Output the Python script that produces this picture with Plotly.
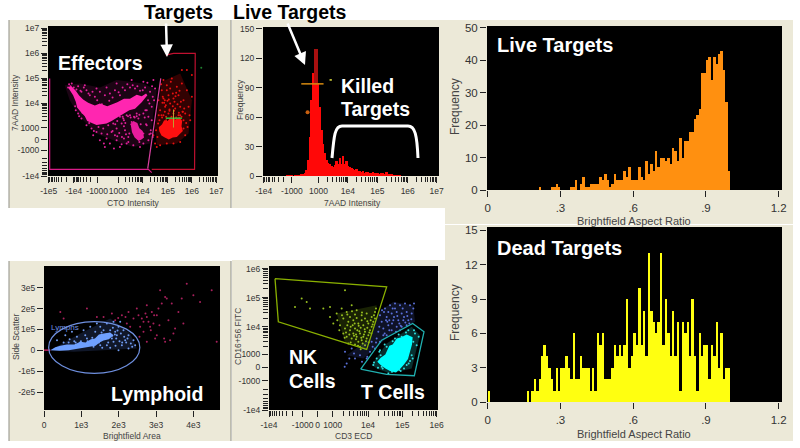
import numpy as np
import plotly.graph_objects as go

W, H = 800, 448
FONT = "Liberation Sans"

# ---------- data: channel histograms and frequency histograms ----------
target_bins = list(range(170, 520, 5))
target_counts = [1,1,1,1,0,1,1,1,1,2,2,3,6,16,40,78,105,130,130,95,70,47,33,23,16,13,12,10,9,11,
                 15,12,18,12,20,12,15,10,9,8,7,6,7,5,5,4,5,3,4,4,3,3,4,3,3,3,2,3,3,2,4,2,2,2,1,1,1,1,1,0]
cap_bins = [255, 260]
cap_counts = [36, 36]

live_counts = [0]*21 + [1,0,0,0,0,1,1,2,1,0,0,0,0,1,1,3,0,2,4,1,1,2,2,2,2,4,3,5,3,1,2,5,3,3,3,6,4,7,3,
               3,3,7,4,3,9,5,8,6,12,7,10,10,9,10,8,13,12,9,16,10,15,15,18,18,22,23,25,36,36,40,41,34,41,39,42,43,37,27,6]
dead_counts = [1] + [0]*15 + [1,0,1,2,1,2,4,5,4,3,2,1,3,1,3,3,4,3,2,6,2,2,4,3,3,3,1,3,1,6,5,6,2,2,
               2,3,5,4,5,4,5,9,3,4,6,5,10,5,8,4,13,8,7,6,7,13,5,9,6,4,8,4,7,1,7,6,7,4,9,4,1,6,4,5,5,2,5,4,7,3,6,2,3,3]

# ---------- data: event clouds, in instrument channels ----------
eff_x = [205,212,222,235,245,260,270,285,300,315,330,345,360,375,390,405,420,435,450,465,320,350,395,430,460,290,255,
         235,245,260,275,290,305,320,335,350,365,375,385,350,330,315,300,280,360,390,410,430,445,440,430,445,420,400,380,360,345,325,370,395,415,455,462,448,440,455,452,310,340,
         228,238,268,296,322,352,372,402,418,444,458,226,248,282,312,342,368,392,436,452,430,410,385,365,338,
         208,216,230,242,252,266,278,292,306,328,338,356,368,382,398,412,428,442,456,380,400,372,352,388,372,
         346,358,376,384,394,408,422,438,448,458,366,378,404,418,434]
eff_y = [262,258,262,258,275,270,285,290,275,285,280,270,285,270,262,265,272,262,275,265,262,250,240,245,240,265,255,
         340,355,375,385,395,400,415,395,385,370,390,410,420,430,440,420,405,350,345,340,340,350,375,400,420,440,435,430,440,405,375,355,365,355,320,300,310,330,360,390,385,370,
         330,348,368,380,402,408,360,350,425,300,290,318,338,392,430,445,350,352,330,400,430,348,425,432,392,
         252,250,268,272,262,280,275,300,312,302,292,276,262,252,255,258,270,248,258,345,380,378,362,400,415,
         372,398,368,348,372,398,372,372,402,410,410,402,352,344,352]
eff_halo_x = [195,240,300,350,430,470,460,450,400,340,290,240,210]
eff_halo_y = [255,250,262,240,250,270,340,430,440,420,400,350,300]
eff_blob_x = [205,220,228,232,245,255,262,275,290,305,320,335,352,370,388,405,425,442,438,425,410,390,372,352,335,322,300,285,265,250,238,228,215]
eff_blob_y = [262,285,305,322,338,348,362,368,374,372,370,362,352,342,330,326,306,285,280,288,284,296,296,306,312,318,310,316,308,298,286,272,258]
eff_low_x = [392,400,412,418,428,432,424,416,404,396]
eff_low_y = [372,362,368,384,392,412,418,422,412,396]
tgt_x = [490,500,515,530,545,560,575,485,475,490,505,520,535,550,565,480,495,510,525,540,555,570,478,490,505,520,535,550,562,468,472,465,480,500,520,540,555,500,545,560,575,510,487,528,512,498,480,550,
         483,497,523,538,552,568,476,508,533,547,518,494,470,460,542,512,
         488,502,518,532,548,494,508,522,536,484,498,514,528,544,558,492,506,526,540,474,486]
tgt_y = [240,255,235,260,250,270,290,270,300,295,285,295,285,300,320,330,320,310,325,320,340,360,360,345,340,340,345,360,380,390,410,430,435,430,430,425,405,270,210,210,225,265,308,278,355,360,382,385,
         252,315,305,272,325,345,345,332,355,335,280,300,440,405,305,245,
         290,302,318,312,335,335,328,332,338,345,350,350,352,350,368,308,298,288,345,370,352]
tgt_halo_x = [485,540,575,565,530,470,465,478]
tgt_halo_y = [245,220,300,400,430,435,380,300]
tgt_blob_x = [476,486,492,502,512,526,538,546,544,548,538,530,518,506,494,484,478]
tgt_blob_y = [382,372,360,362,352,358,350,362,378,392,402,410,412,418,412,406,394]

lym_out_x = [480,495,560,515,470,440,415,430,450,470,495,510,535,580,600,635,650,400,385,345,310,180,260,500,550,420,440,465,525,390,365,335,290,190,455,485,545,
             475,505,520,440,410,380,460,430,425,445,462,478,492,418,436,452,376,354]
lym_out_y = [105,125,85,145,180,150,180,200,215,240,260,255,170,120,140,105,260,190,170,195,185,170,160,130,205,215,260,250,220,215,180,175,185,190,170,145,130,
             160,195,235,185,160,205,205,230,190,200,180,210,250,245,175,225,185,188]
lym_in_x = [170,195,215,230,250,270,285,300,320,340,355,370,385,400,350,365,385,340,320,300,280,260,240,330,310,345,375,295,405,355,270,255,335,290,360,
            325,348,362,378,392,312,288,262,242,222,205,338,358,372,
            318,328,336,344,352,304,314,324,296,286,276,266,306,330,346,366,382,396,190,208,226,246]
lym_in_y = [255,240,230,245,225,215,230,215,205,200,215,225,240,255,240,270,280,260,270,270,275,250,262,225,225,230,255,250,270,285,265,240,250,205,200,
            245,250,235,262,265,248,262,258,258,258,262,218,258,245,
            238,236,242,238,226,232,240,262,262,258,248,268,278,278,272,262,250,275,262,252,262,268]
lym_halo_x = [150,240,330,390,410,300,220]
lym_halo_y = [285,235,190,235,280,285,290]
lym_blob_x = [150,165,180,200,222,240,256,272,284,296,306,330,340,326,310,298,286,262,236,205,178]
lym_blob_y = [285,276,272,268,268,260,262,252,250,238,236,232,240,252,256,262,272,276,282,285,287]

nk_x = [195,215,230,240,280,300,345,320,335,350,365,380,395,410,425,435,340,355,370,385,400,415,430,345,360,375,390,405,420,350,365,380,395,410,355,375,390,405,330,322,300,310,370,385,400,415,425,435,360,375,340,395,405,382,368,352,392,412,378,398,
        348,358,372,388,402,418,428,362,378,394,408,422,352,366,380,396,412,344,336,328,404,386,374,362,416,432,438,424,384,392]
nk_y = [155,130,140,160,160,155,105,175,160,170,150,165,180,175,185,170,190,200,195,205,210,205,200,220,225,220,235,230,225,245,250,245,255,250,265,268,275,270,210,195,185,205,235,260,245,240,215,190,185,178,235,195,190,225,210,210,218,218,238,265,
        232,238,242,228,238,232,208,262,252,248,258,195,178,168,188,172,198,248,180,225,222,212,205,215,262,180,160,235,272,282]
bl_x = [450,465,480,495,510,525,540,455,470,485,500,515,530,545,460,475,490,505,520,535,470,445,450,435,420,410,390,375,350,345,365,485,500,515,530,440,495,475,460,510,425,
        462,478,492,508,522,538,550,456,468,488,502,518,532,472,486,498,512,526,448,464,478,544,552,438,428,412,396,372,358,344]
bl_y = [180,160,150,145,150,145,150,200,185,175,170,175,170,175,220,210,195,195,195,195,240,230,260,280,290,310,300,310,325,290,280,225,215,215,210,250,160,170,240,225,260,
        170,195,185,205,185,205,160,165,195,160,182,160,182,200,205,230,212,202,215,235,225,192,145,262,275,305,320,295,310,335]
tc_x = [430,455,475,530,545,550,555,535,515,495,470,450,440,462,508,522,540,432,444,458,486,512,536,548,560,566,552,528,506,488,464,448,452]
tc_y = [330,335,355,330,300,260,235,225,245,250,275,285,310,322,345,340,318,322,338,340,350,348,325,310,270,245,225,232,238,258,268,290,300]
nk_halo_x = [320,440,435,405,345]
nk_halo_y = [175,150,200,283,262]
bl_halo_x = [445,490,550,555,480,430,400,350,420]
bl_halo_y = [170,140,150,200,240,285,310,300,250]
tc_halo_x = [425,470,545,570,545,480,440]
tc_halo_y = [330,265,215,240,340,355,340]
tc_blob_x = [442,452,466,478,488,500,514,530,548,546,540,534,522,510,498,480,466,452]
tc_blob_y = [320,308,298,272,268,250,246,238,246,268,290,312,328,342,352,348,340,330]

# ---------- data: gates ----------
gate_red_x = [497,520,585,583,455]
gate_red_y = [165,160,160,507,507]
gate_pink_x = [150,150,445,455]
gate_pink_y = [235,507,507,517]
gate_diag_x = [482,443]
gate_diag_y = [235,505]
gate_nk_x = [135,470,410,345,320,145,135]
gate_nk_y = [70,95,283,262,255,200,70]
gate_t_x = [392,455,548,582,553,470,392]
gate_t_y = [342,255,205,230,362,358,342]

# ---------- data: ticks ----------
p1_xt = [147,222,292,355,428,503,575,648]
p1_xl = ["-1e5","-1e4","-1000","1000","1e4","1e5","1e6","1e7"]
p1_yt = [85,160,235,310,383,419,450,527]
p1_yl = ["1e7","1e6","1e5","1e4","1000","0","-1000","-1e4"]
p2_xt = [100,185,265,353,442,533,620]
p2_xl = ["-1e4","-1000","1000","1e4","1e5","1e6","1e7"]
p2_yt = [0,30,60,90,120,150]
ar_xt = [0,.3,.6,.9,1.2]
ar_xl = ["0",".3",".6",".9","1.2"]
p3_yt = [0,10,20,30,40,50]
p4_yt = [0,3,6,9,12,15]
p5_xt = [131,243,355,468,580]
p5_xl = ["0","1e3","2e3","3e3","4e3"]
p5_yt = [97,160,222,285,348,412]
p5_yl = ["3e5","2e5","1e5","0","-1e5","-2e5"]
p6_xt = [117,218,263,308,414,517,620]
p6_xl = ["-1e4","-1000","0","1000","1e4","1e5","1e6"]
p6_yt = [40,127,215,298,337,377,465]
p6_yl = ["1e6","1e5","1e4","1000","0","-1000","-1e4"]

def px(x): return x / W
def py(y): return 1 - y / H

def minors(pairs):
    out = []
    for a, b, neg in pairs:
        for k in range(2, 10):
            f = np.log10(k)
            out.append(float(b - (b - a) * f) if neg else float(a + (b - a) * f))
    return out

p1_xm = minors([(147,222,1),(222,292,1),(355,428,0),(428,503,0),(503,575,0),(575,648,0)])
p1_ym = minors([(527,450,1),(383,310,0),(310,235,0),(235,160,0),(160,85,0)])
p2_xm = minors([(100,185,1),(265,353,0),(353,442,0),(442,533,0),(533,620,0)])
p6_xm = minors([(117,218,1),(308,414,0),(414,517,0),(517,620,0)])
p6_ym = minors([(465,377,1),(298,215,0),(215,127,0),(127,40,0)])

fig = go.Figure()
shapes, annos = [], []

panels = [(9,20,231,208),(232,20,445,208),(445,20,793,224),(445,225,793,441),(9,261,231,441),(232,260,445,441)]
plots = [(48,26,218,176),(263,27,439,176),(487,26,782,190),(487,227,782,402),(44,266,220,410),(269,266,438,410)]
for (a,b,c,d) in panels:
    shapes.append(dict(type="rect", xref="paper", yref="paper", x0=px(a), x1=px(c), y0=py(d), y1=py(b),
                       fillcolor="#ece9d8", line_width=0, layer="below"))
for a in (9,231):
    shapes.append(dict(type="line", xref="paper", yref="paper", x0=px(a), x1=px(a), y0=py(208), y1=py(20),
                       line=dict(color="#8f8f85", width=1), layer="below"))
    shapes.append(dict(type="line", xref="paper", yref="paper", x0=px(a), x1=px(a), y0=py(441), y1=py(261),
                       line=dict(color="#8f8f85", width=1), layer="below"))
for (a,b,c,d) in plots:
    shapes.append(dict(type="rect", xref="paper", yref="paper", x0=px(a), x1=px(c), y0=py(d), y1=py(b),
                       fillcolor="black", line_width=0, layer="below"))

def axes(i, xr, yr, xt, xl, yt, yl, xm=None, ym=None, size=8.5, tl=6):
    a, b, c, d = plots[i]
    ax = dict(domain=[px(a), px(c)], range=xr, anchor=f"y{i+1}", tickvals=xt, ticktext=xl, tickangle=0,
              showgrid=False, zeroline=False, showline=False, ticks="outside", ticklen=tl, tickwidth=1, ticklabelstandoff=1,
              tickcolor="#222", tickfont=dict(size=size, color="#333", family=FONT), automargin=False)
    ay = dict(domain=[py(d), py(b)], range=yr, anchor=f"x{i+1}", tickvals=yt, ticktext=yl,
              showgrid=False, zeroline=False, showline=False, ticks="outside", ticklen=tl, tickwidth=1,
              tickcolor="#222", tickfont=dict(size=size, color="#333", family=FONT), automargin=False)
    if xm: ax["minor"] = dict(tickvals=xm, ticks="outside", ticklen=5, tickcolor="#222", tickwidth=1, showgrid=False)
    if ym: ay["minor"] = dict(tickvals=ym, ticks="outside", ticklen=5, tickcolor="#222", tickwidth=1, showgrid=False)
    fig.update_layout({f"xaxis{i+1}": ax, f"yaxis{i+1}": ay})

axes(0,[145,653],[527,78],p1_xt,p1_xl,p1_yt,p1_yl,p1_xm,p1_ym)
axes(1,[98,627],[0,152],p2_xt,p2_xl,p2_yt,[str(v) for v in p2_yt],p2_xm)
axes(2,[-0.003,1.2137],[0,50.6],ar_xt,ar_xl,p3_yt,[str(v) for v in p3_yt],size=11.5)
axes(3,[-0.003,1.2137],[0,15.3],ar_xt,ar_xl,p4_yt,[str(v) for v in p4_yt],size=11.5)
axes(4,[131,660],[465,32],p5_xt,p5_xl,p5_yt,p5_yl)
axes(5,[117,624],[465,32],p6_xt,p6_xl,p6_yt,p6_yl,p6_xm,p6_ym)

def dots(i, x, y, color, size=2):
    s = "" if i == 0 else str(i+1)
    fig.add_trace(go.Scatter(x=x, y=y, mode="markers", marker=dict(color=color, size=size, line_width=0),
                             xaxis="x"+s, yaxis="y"+s, showlegend=False, hoverinfo="skip"))
def poly(i, x, y, color):
    s = "" if i == 0 else str(i+1)
    fig.add_trace(go.Scatter(x=x+x[:1], y=y+y[:1], mode="lines", fill="toself", fillcolor=color,
                             line=dict(color="rgba(0,0,0,0)", width=0),
                             xaxis="x"+s, yaxis="y"+s, showlegend=False, hoverinfo="skip"))
def line(i, x, y, color, width=1):
    s = "" if i == 0 else str(i+1)
    fig.add_trace(go.Scatter(x=x, y=y, mode="lines", line=dict(color=color, width=width),
                             xaxis="x"+s, yaxis="y"+s, showlegend=False, hoverinfo="skip"))
def bars(i, x, y, color, width, base=None):
    s = "" if i == 0 else str(i+1)
    fig.add_trace(go.Bar(x=x, y=y, base=base, width=width, marker=dict(color=color, line_width=0),
                         xaxis="x"+s, yaxis="y"+s, showlegend=False, hoverinfo="skip"))

# panel 1
poly(0, eff_halo_x, eff_halo_y, "rgba(200,30,140,0.14)")
poly(0, tgt_halo_x, tgt_halo_y, "rgba(210,10,10,0.24)")
dots(0, eff_x, eff_y, "#e0209a")
poly(0, eff_blob_x, eff_blob_y, "#ff26b0")
poly(0, eff_low_x, eff_low_y, "#e81c9c")
dots(0, tgt_x, tgt_y, "#e81010")
poly(0, tgt_blob_x, tgt_blob_y, "#ff1010")
line(0, gate_red_x, gate_red_y, "#c01030", 1.2)
line(0, gate_pink_x, gate_pink_y, "#d81c88", 1.2)
line(0, gate_diag_x, gate_diag_y, "#d840a0", 1.2)
line(0, [497,545], [354,354], "#30c040", 1.5)
line(0, [520,520], [328,382], "#c0a030", 1)
dots(0, [603], [203], "#208030", 2)
# panel 2
bars(1, target_bins, target_counts, "#ff0808", 5.6)
bars(1, cap_bins, cap_counts, "#a81010", 5.6, base=94)
line(1, [213,280], [94,94], "#d88a10", 1.5)
line(1, [298,305], [98,98], "#e0e040", 1.5)
dots(1, [232], [65], "#c86010", 4)
# panels 3, 4
bin_x = (np.arange(100) * 0.01 + 0.005).tolist()
bars(2, bin_x, live_counts, "#ff9010", 0.0102)
bars(3, bin_x, dead_counts, "#ffff10", 0.0102)
# panel 5
poly(4, lym_halo_x, lym_halo_y, "rgba(90,130,230,0.18)")
dots(4, lym_out_x, lym_out_y, "#a8205c")
dots(4, lym_in_x, lym_in_y, "#6f9af0")
poly(4, lym_blob_x, lym_blob_y, "#6fa0ff")
line(4, [131,150], [285,285], "#c02060", 1.5)
shapes.append(dict(type="circle", xref="x5", yref="y5", x0=145, x1=419, y0=199, y1=355,
                   line=dict(color="#6f90e0", width=1.2), layer="above"))
# panel 6
poly(5, nk_halo_x, nk_halo_y, "rgba(140,190,20,0.18)")
poly(5, bl_halo_x, bl_halo_y, "rgba(80,100,210,0.18)")
poly(5, tc_halo_x, tc_halo_y, "rgba(30,220,220,0.22)")
dots(5, nk_x, nk_y, "#98c020")
dots(5, bl_x, bl_y, "#5a70d8")
dots(5, tc_x, tc_y, "#30e0e0")
poly(5, tc_blob_x, tc_blob_y, "#00ffff")
line(5, gate_nk_x, gate_nk_y, "#8ab000", 1.3)
line(5, gate_t_x, gate_t_y, "#20b0b0", 1.3)

# bracket over killed targets
shapes.append(dict(type="path", xref="paper", yref="paper",
    path=f"M {px(332)} {py(158)} C {px(334)} {py(135)} {px(335)} {py(126)} {px(342)} {py(126)} "
         f"L {px(408)} {py(126)} C {px(415)} {py(126)} {px(417)} {py(135)} {px(418)} {py(158)}",
    line=dict(color="white", width=3), layer="above"))

def label(text, x, y, color="white", size=19.5):
    annos.append(dict(text=f"<b>{text}</b>", x=px(x), y=py(y), xref="paper", yref="paper", xanchor="left", yanchor="middle",
                      showarrow=False, font=dict(family=FONT, size=size, color=color)))
label("Targets", 142, 12, "black")
label("Live Targets", 231, 12, "black")
label("Effectors", 56, 63)
label("Killed", 339, 86)
label("Targets", 339, 109)
label("Live Targets", 495, 45, size=20)
label("Dead Targets", 495, 248, size=20)
label("Lymphoid", 109, 394)
label("NK", 287, 357)
label("Cells", 287, 381)
label("T Cells", 359, 392)
annos.append(dict(text="Lymphs", x=px(49), y=py(327), xref="paper", yref="paper", xanchor="left", yanchor="middle",
                  showarrow=False, font=dict(family=FONT, size=8, color="#6f90e0")))
for (x0,y0,x1,y1) in [(166,22,167,57),(287,22,305,65)]:
    annos.append(dict(x=px(x1), y=py(y1), xref="paper", yref="paper", ax=x0-x1, ay=y0-y1, axref="pixel", ayref="pixel",
                      text="", showarrow=True, arrowhead=2, arrowsize=1, arrowwidth=2.5, arrowcolor="white"))

def title(text, x, y, size=8.5, angle=0):
    annos.append(dict(text=text, x=px(x), y=py(y), xref="paper", yref="paper", xanchor="center", yanchor="middle",
                      textangle=angle, showarrow=False, font=dict(family=FONT, size=size, color="#444")))
title("CTO Intensity", 133, 203)
title("7AAD Intensity", 15, 103, angle=-90)
title("7AAD Intensity", 352, 203)
title("Frequency", 240, 100, angle=-90)
title("Brightfield Aspect Ratio", 634, 221, size=11)
title("Frequency", 455, 107, size=12, angle=-90)
title("Brightfield Aspect Ratio", 634, 434, size=11)
title("Frequency", 455, 313, size=12, angle=-90)
title("Brightfield Area", 132, 436)
title("Side Scatter", 16, 337, angle=-90)
title("CD3 ECD", 353, 436)
title("CD16+56 FITC", 238, 337, angle=-90)

fig.update_layout(width=W, height=H, autosize=False, margin=dict(l=0,r=0,t=0,b=0), paper_bgcolor="white",
                  plot_bgcolor="rgba(0,0,0,0)", barmode="overlay", bargap=0, showlegend=False,
                  shapes=shapes, annotations=annos, font=dict(family=FONT))
fig.write_html("out.html", config=dict(displayModeBar=False), post_script="document.body.style.margin='0';document.body.style.overflow='hidden';")
